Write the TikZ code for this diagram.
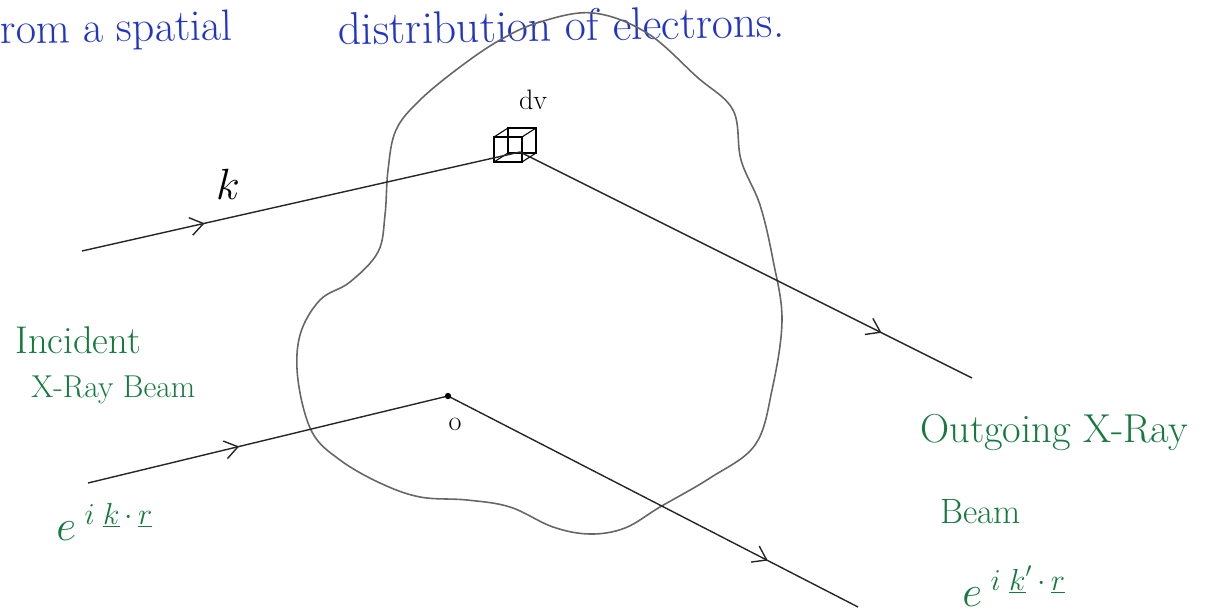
\documentclass[tikz,border=0pt]{standalone}
\usepackage{fontspec}
\usepackage{tikz}
\usetikzlibrary{arrows.meta, decorations.markings, positioning}
\usepackage{xcolor}
\definecolor{inkgreen}{RGB}{22,122,62}
\definecolor{inkblue}{RGB}{32,52,200}

\begin{document}
\begin{tikzpicture}[
	x=0.02cm, y=-0.02cm,
	>=Stealth,
	every node/.style={inner sep=0pt},
	beam/.style={black!85, line width=0.8pt},
	mid arrow/.style={postaction={decorate}, decoration={markings, mark=at position #1 with {\arrow{Straight Barb[length=2.6mm, width=3.6mm]}}}},
	blob line/.style={black!60, line width=0.9pt},
	volume/.style={black, line width=0.6pt},
	green label/.style={inkgreen},
	blue label/.style={inkblue, rotate=1, font=\fontsize{25}{28}\selectfont}
	]
	\useasboundingbox (0,0) rectangle (1209,615);

	% =====================================================
	% MAIN POINTS
	% =====================================================
	\coordinate (kIn) at (82,251);
	\coordinate (dV) at (520,152);
	\coordinate (kOut) at (972,378);
	\coordinate (oIn) at (88,483);
	\coordinate (O) at (448,396);
	\coordinate (oOut) at (858,607);

	% =====================================================
	% HEADER LINE
	% =====================================================
	\node[blue label, anchor=west] (head1) at (0,33) {rom a spatial};
	\node[blue label, anchor=west, font=\fontsize{26}{28}\selectfont] (head2) at (338,29) {distribution of electrons.};

	% =====================================================
	% ELECTRON DISTRIBUTION
	% =====================================================
	\draw[blob line] plot[smooth cycle, tension=0.6] coordinates {
		(593,13) (647,33) (697,77) (733,110) (741,160) (760,205) (773,260)
		(782,320) (772,390) (755,445) (710,478) (660,507) (625,528) (590,534)
		(553,527) (510,507) (467,500) (420,497) (380,483) (340,460) (312,432)
		(298,380) (300,335) (320,300) (350,282) (378,252) (385,215) (388,170)
		(396,130) (420,100) (460,67) (500,40) (540,22)};

	% =====================================================
	% VOLUME ELEMENT
	% =====================================================
	\draw[volume] (494,137) rectangle (522,162);
	\draw[volume] (508,128) rectangle (536,153);
	\draw[volume] (494,137) -- (508,128);
	\draw[volume] (522,137) -- (536,128);
	\draw[volume] (522,162) -- (536,153);
	\draw[volume] (494,162) -- (508,153);
	\node[font=\fontsize{16}{18}\selectfont] (dvlabel) at (533,100) {dv};

	% =====================================================
	% BEAMS
	% =====================================================
	\draw[beam, mid arrow=0.28] (kIn) -- (dV);
	\draw[beam, mid arrow=0.8] (dV) -- (kOut);
	\draw[beam, mid arrow=0.42] (oIn) -- (O);
	\draw[beam, mid arrow=0.78] (O) -- (oOut);
	\fill[black] (O) circle (1.8pt);
	\node[font=\fontsize{16}{18}\selectfont] (olabel) at (455,424) {o};
	\node[font=\fontsize{28}{30}\selectfont] (klabel) at (228,184) {$k$};

	% =====================================================
	% INCIDENT / OUTGOING LABELS
	% =====================================================
	\node[green label, anchor=west, font=\fontsize{22}{26}\selectfont] (inc1) at (15,340) {Incident};
	\node[green label, anchor=west, font=\fontsize{18}{22}\selectfont] (inc2) at (31,390) {X-Ray Beam};
	\node[green label, anchor=base west, font=\fontsize{26}{30}\selectfont] (incwave) at (56,540) {$e^{\;i\;\underline{k}\,\cdot\,\underline{r}}$};

	\node[green label, anchor=west, font=\fontsize{23}{26}\selectfont] (out1) at (920,432) {Outgoing X-Ray};
	\node[green label, anchor=west, font=\fontsize{20}{24}\selectfont] (out2) at (940,512) {Beam};
	\node[green label, anchor=base west, font=\fontsize{26}{30}\selectfont] (outwave) at (962,606) {$e^{\;i\;\underline{k}'\,\cdot\,\underline{r}}$};

\end{tikzpicture}
\end{document}
